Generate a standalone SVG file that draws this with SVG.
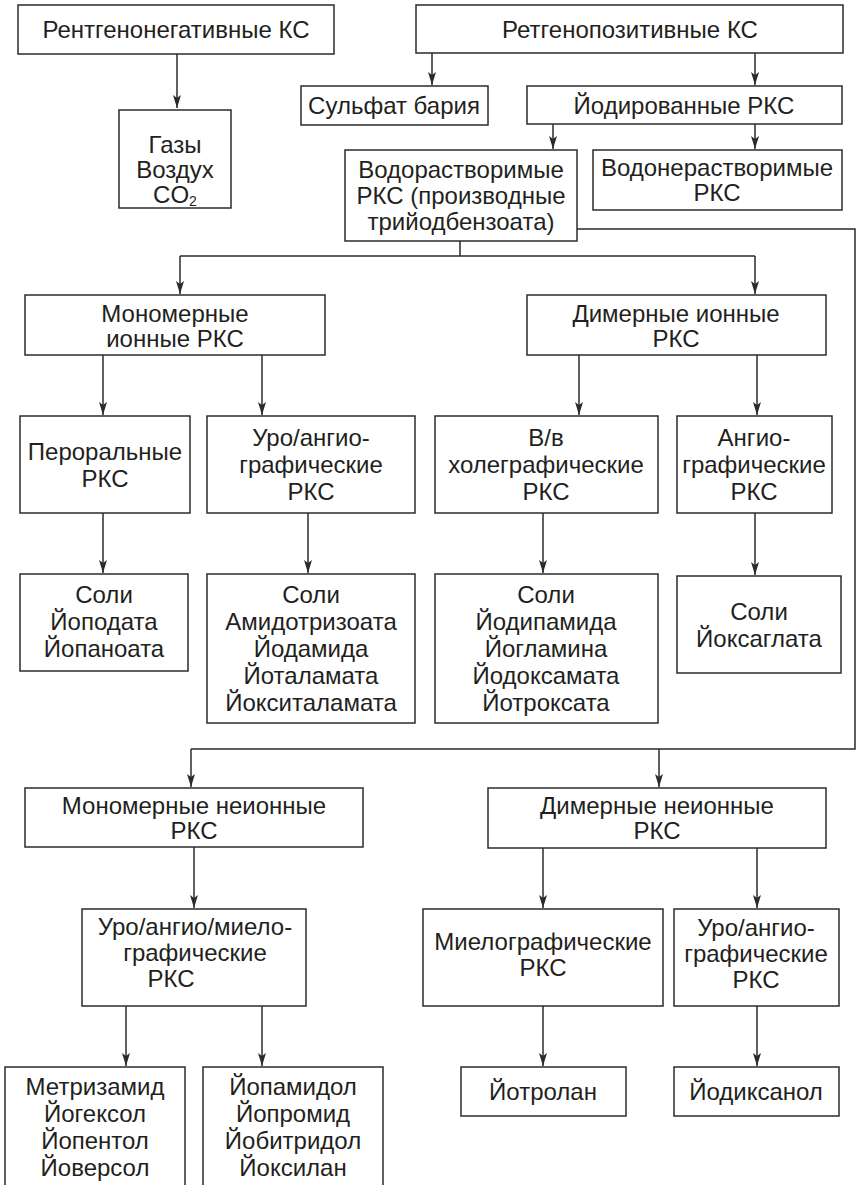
<svg xmlns="http://www.w3.org/2000/svg" width="857" height="1185" viewBox="0 0 857 1185">
<style>
.b{fill:#fff;stroke:#2b2b2b;stroke-width:1.5}
.t{font-family:"Liberation Sans",Arial,Helvetica,sans-serif;font-size:24px;fill:#231f20;text-anchor:middle}
.c{fill:none;stroke:#2b2b2b;stroke-width:1.5}
.a{fill:none;stroke:#2b2b2b;stroke-width:1.5;marker-end:url(#ah)}
</style>
<defs>
<marker id="ah" markerUnits="userSpaceOnUse" markerWidth="14" markerHeight="10" refX="13" refY="5" orient="auto" viewBox="0 0 14 10">
<path d="M0,1 L13,5 L0,9 L3,5 z" fill="#2b2b2b"/>
</marker>
</defs>
<rect width="857" height="1185" fill="#fff"/>
<g id="connectors">
<path class="a" d="M177,54 V108"/>
<path class="a" d="M432,53 V85"/>
<path class="a" d="M755,53 V85"/>
<path class="a" d="M553,124 V149"/>
<path class="a" d="M755,124 V149"/>
<path class="c" d="M460,241 V256 M180,256 H755"/>
<path class="a" d="M180,256 V294"/>
<path class="a" d="M755,256 V294"/>
<path class="c" d="M577,229 H855 V749 H191"/>
<path class="a" d="M191,749 V787"/>
<path class="a" d="M659,749 V787"/>
<path class="a" d="M103,355 V415"/>
<path class="a" d="M262,355 V415"/>
<path class="a" d="M579,355 V415"/>
<path class="a" d="M757,355 V415"/>
<path class="a" d="M103,513 V573"/>
<path class="a" d="M308,513 V573"/>
<path class="a" d="M543,513 V573"/>
<path class="a" d="M755,513 V575"/>
<path class="a" d="M194,847 V908"/>
<path class="a" d="M126,1006 V1066"/>
<path class="a" d="M262,1006 V1066"/>
<path class="a" d="M543,848 V908"/>
<path class="a" d="M757,848 V908"/>
<path class="a" d="M543,1006 V1066"/>
<path class="a" d="M757,1006 V1066"/>
</g>
<g id="n-rneg"><rect class="b" x="18" y="5" width="316" height="49"/><text class="t" x="176" y="38">Рентгенонегативные КС</text></g>
<g id="n-rpos"><rect class="b" x="416" y="5" width="427" height="48"/><text class="t" x="630" y="38">Ретгенопозитивные КС</text></g>
<g id="n-gas"><rect class="b" x="119" y="110" width="112" height="98"/><text class="t" x="175" y="153">Газы</text><text class="t" x="175" y="178">Воздух</text><text class="t" x="175" y="203">CO<tspan font-size="14" dy="3">2</tspan></text></g>
<g id="n-sulf"><rect class="b" x="301" y="86" width="187" height="39"/><text class="t" x="394" y="114">Сульфат бария</text></g>
<g id="n-iod"><rect class="b" x="527" y="86" width="315" height="38"/><text class="t" x="684" y="114">Йодированные РКС</text></g>
<g id="n-water"><rect class="b" x="345" y="150" width="232" height="91"/><text class="t" x="461" y="178">Водорастворимые</text><text class="t" x="461" y="204">РКС (производные</text><text class="t" x="461" y="230">трийодбензоата)</text></g>
<g id="n-nowater"><rect class="b" x="593" y="150" width="249" height="60"/><text class="t" x="717" y="176">Водонерастворимые</text><text class="t" x="717" y="201">РКС</text></g>
<g id="n-monoion"><rect class="b" x="25" y="295" width="300" height="60"/><text class="t" x="175" y="322">Мономерные</text><text class="t" x="175" y="347">ионные РКС</text></g>
<g id="n-diion"><rect class="b" x="527" y="295" width="299" height="60"/><text class="t" x="676" y="322">Димерные ионные</text><text class="t" x="676" y="347">РКС</text></g>
<g id="n-peroral"><rect class="b" x="20" y="416" width="170" height="97"/><text class="t" x="105" y="460">Пероральные</text><text class="t" x="105" y="487">РКС</text></g>
<g id="n-uroangio1"><rect class="b" x="207" y="416" width="208" height="97"/><text class="t" x="311" y="446">Уро/ангио-</text><text class="t" x="311" y="473">графические</text><text class="t" x="311" y="500">РКС</text></g>
<g id="n-chole"><rect class="b" x="435" y="416" width="223" height="97"/><text class="t" x="546" y="446">В/в</text><text class="t" x="546" y="473">холеграфические</text><text class="t" x="546" y="500">РКС</text></g>
<g id="n-angio"><rect class="b" x="677" y="416" width="155" height="97"/><text class="t" x="754" y="446">Ангио-</text><text class="t" x="754" y="473">графические</text><text class="t" x="754" y="500">РКС</text></g>
<g id="n-salt1"><rect class="b" x="20" y="574" width="168" height="97"/><text class="t" x="104" y="603">Соли</text><text class="t" x="104" y="630">Йоподата</text><text class="t" x="104" y="657">Йопаноата</text></g>
<g id="n-salt2"><rect class="b" x="207" y="574" width="208" height="149"/><text class="t" x="311" y="603">Соли</text><text class="t" x="311" y="630">Амидотризоата</text><text class="t" x="311" y="657">Йодамида</text><text class="t" x="311" y="684">Йоталамата</text><text class="t" x="311" y="711">Йокситаламата</text></g>
<g id="n-salt3"><rect class="b" x="435" y="574" width="223" height="149"/><text class="t" x="546" y="603">Соли</text><text class="t" x="546" y="630">Йодипамида</text><text class="t" x="546" y="657">Йогламина</text><text class="t" x="546" y="684">Йодоксамата</text><text class="t" x="546" y="711">Йотроксата</text></g>
<g id="n-salt4"><rect class="b" x="677" y="576" width="164" height="97"/><text class="t" x="759" y="620">Соли</text><text class="t" x="759" y="647">Йоксаглата</text></g>
<g id="n-mononon"><rect class="b" x="25" y="788" width="338" height="59"/><text class="t" x="194" y="814">Мономерные неионные</text><text class="t" x="194" y="839">РКС</text></g>
<g id="n-dinon"><rect class="b" x="488" y="788" width="338" height="60"/><text class="t" x="657" y="814">Димерные неионные</text><text class="t" x="657" y="839">РКС</text></g>
<g id="n-uam"><rect class="b" x="82" y="909" width="224" height="97"/><text class="t" x="195" y="935">Уро/ангио/миело-</text><text class="t" x="195" y="961">графические</text><text class="t" x="171" y="987">РКС</text></g>
<g id="n-myelo"><rect class="b" x="423" y="909" width="240" height="97"/><text class="t" x="543" y="950">Миелографические</text><text class="t" x="543" y="976">РКС</text></g>
<g id="n-uroangio2"><rect class="b" x="674" y="909" width="165" height="97"/><text class="t" x="756" y="936">Уро/ангио-</text><text class="t" x="756" y="962">графические</text><text class="t" x="756" y="988">РКС</text></g>
<g id="n-metri"><rect class="b" x="5" y="1067" width="180" height="130"/><text class="t" x="95" y="1095">Метризамид</text><text class="t" x="95" y="1122">Йогексол</text><text class="t" x="95" y="1149">Йопентол</text><text class="t" x="95" y="1176">Йоверсол</text></g>
<g id="n-iopam"><rect class="b" x="203" y="1067" width="180" height="130"/><text class="t" x="293" y="1095">Йопамидол</text><text class="t" x="293" y="1122">Йопромид</text><text class="t" x="293" y="1149">Йобитридол</text><text class="t" x="293" y="1176">Йоксилан</text></g>
<g id="n-iotrol"><rect class="b" x="461" y="1067" width="165" height="49"/><text class="t" x="543" y="1100">Йотролан</text></g>
<g id="n-iodix"><rect class="b" x="674" y="1067" width="165" height="49"/><text class="t" x="756" y="1100">Йодиксанол</text></g>
</svg>
